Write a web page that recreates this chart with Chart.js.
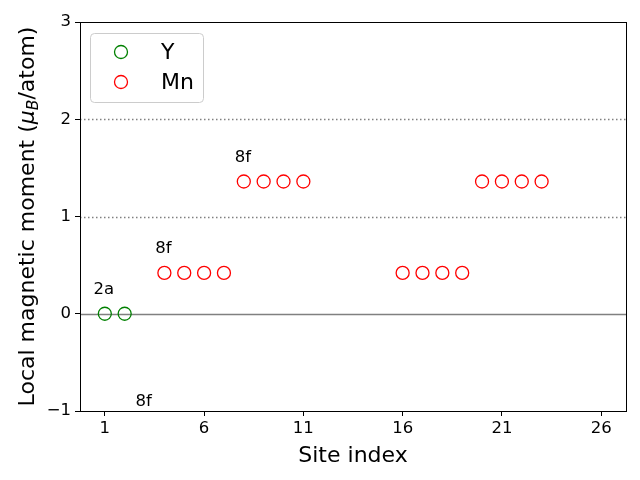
<!DOCTYPE html>
<html><head><meta charset="utf-8">
<script src="https://cdn.jsdelivr.net/npm/chart.js@4"></script>
<style>html,body{margin:0;padding:0;background:#fff}#c{display:block}</style>
</head><body>
<canvas id="c" width="640" height="480"></canvas>
<script>
const ySites = [1, 2];
const yValues = [0, 0];
const mnSites = [4, 5, 6, 7, 8, 9, 10, 11, 16, 17, 18, 19, 20, 21, 22, 23];
const mnValues = [0.42, 0.42, 0.42, 0.42, 1.36, 1.36, 1.36, 1.36, 0.42, 0.42, 0.42, 0.42, 1.36, 1.36, 1.36, 1.36];
const xTicks = [1, 6, 11, 16, 21, 26];
const yTicks = [-1, 0, 1, 2, 3];
const annotLabels = ['2a', '8f', '8f', '8f'];
const annotX = [0.95, 3.95, 7.95, 2.95];
const annotY = [0.2, 0.62, 1.56, -0.95];
const refLines = [0, 1, 2];

const FONT = "'DejaVu Sans', sans-serif";
const toPts = (xs, ys) => xs.map((x, i) => ({x: x, y: ys[i]}));

const overlay = {
  id: 'overlay',
  beforeDatasetsDraw(chart) {
    const ctx = chart.ctx, a = chart.chartArea, ys = chart.scales.y;
    ctx.save();
    refLines.forEach(v => {
      const py = Math.round(ys.getPixelForValue(v)) + 0.5;
      ctx.beginPath();
      ctx.strokeStyle = 'rgba(128,128,128,1)';
      if (v === 0) { ctx.lineWidth = 1.5; ctx.setLineDash([]); }
      else { ctx.lineWidth = 1.5; ctx.setLineDash([1.5, 2.5]); }
      ctx.moveTo(a.left, py); ctx.lineTo(a.right, py); ctx.stroke();
    });
    ctx.restore();
  },
  afterDraw(chart) {
    const ctx = chart.ctx, a = chart.chartArea, xs = chart.scales.x, ys = chart.scales.y;
    ctx.save();
    // frame
    ctx.strokeStyle = '#000'; ctx.lineWidth = 1; ctx.setLineDash([]);
    ctx.strokeRect(Math.round(a.left) + 0.5, Math.round(a.top) + 0.5, Math.round(a.right - a.left), Math.round(a.bottom - a.top));
    // annotations
    ctx.fillStyle = '#000';
    ctx.font = '16.5px ' + FONT;
    ctx.textAlign = 'center'; ctx.textBaseline = 'alphabetic';
    annotLabels.forEach((t, i) => {
      ctx.fillText(t, xs.getPixelForValue(annotX[i]), ys.getPixelForValue(annotY[i]));
    });
    // x label
    ctx.font = '22px ' + FONT;
    ctx.textAlign = 'center';
    ctx.fillText('Site index', (a.left + a.right) / 2, 462);
    // y label
    ctx.translate(34, (a.top + a.bottom) / 2);
    ctx.rotate(-Math.PI / 2);
    const parts = [
      {t: 'Local magnetic moment (', f: '22px ' + FONT, dy: 0},
      {t: 'μ', f: 'italic 22px ' + FONT, dy: 0},
      {t: 'B', f: 'italic 15.5px ' + FONT, dy: 4},
      {t: '/atom)', f: '22px ' + FONT, dy: 0}
    ];
    let total = 0;
    parts.forEach(p => { ctx.font = p.f; p.w = ctx.measureText(p.t).width; total += p.w; });
    let cx = -total / 2;
    ctx.textAlign = 'left';
    parts.forEach(p => { ctx.font = p.f; ctx.fillText(p.t, cx, p.dy); cx += p.w; });
    ctx.restore();
    // legend
    ctx.save();
    const lx = 90.5, ly = 33.5, lw = 113, lh = 69, r = 4;
    ctx.beginPath();
    ctx.moveTo(lx + r, ly); ctx.lineTo(lx + lw - r, ly); ctx.arcTo(lx + lw, ly, lx + lw, ly + r, r);
    ctx.lineTo(lx + lw, ly + lh - r); ctx.arcTo(lx + lw, ly + lh, lx + lw - r, ly + lh, r);
    ctx.lineTo(lx + r, ly + lh); ctx.arcTo(lx, ly + lh, lx, ly + lh - r, r);
    ctx.lineTo(lx, ly + r); ctx.arcTo(lx, ly, lx + r, ly, r); ctx.closePath();
    ctx.fillStyle = 'rgba(255,255,255,0.8)'; ctx.fill();
    ctx.strokeStyle = '#cccccc'; ctx.lineWidth = 1; ctx.stroke();
    chart.data.datasets.forEach((ds, i) => {
      const my = 52 + i * 30;
      ctx.beginPath(); ctx.arc(121, my, 6.5, 0, Math.PI * 2);
      ctx.strokeStyle = ds.borderColor; ctx.lineWidth = 1.3; ctx.stroke();
      ctx.fillStyle = '#000'; ctx.font = '22px ' + FONT;
      ctx.textAlign = 'left'; ctx.textBaseline = 'middle';
      ctx.fillText(ds.label, 161, my + 1);
    });
    ctx.restore();
  }
};

new Chart(document.getElementById('c'), {
  type: 'scatter',
  data: {
    datasets: [
      {label: 'Y', data: toPts(ySites, yValues), borderColor: '#008000', backgroundColor: 'rgba(0,0,0,0)', pointRadius: 6.5, pointHoverRadius: 6.5, borderWidth: 1.3},
      {label: 'Mn', data: toPts(mnSites, mnValues), borderColor: '#ff0000', backgroundColor: 'rgba(0,0,0,0)', pointRadius: 6.5, pointHoverRadius: 6.5, borderWidth: 1.3}
    ]
  },
  options: {
    responsive: false, animation: false,
    layout: {padding: {top: 22, right: 14, left: 0, bottom: 0}},
    plugins: {legend: {display: false}, tooltip: {enabled: false}},
    scales: {
      x: {
        type: 'linear', min: -0.25, max: 27.25,
        afterBuildTicks: s => { s.ticks = xTicks.map(v => ({value: v})); },
        afterFit: s => { s.height = 69; },
        grid: {drawOnChartArea: false, tickLength: 5, color: '#000', tickWidth: 1},
        border: {display: true, color: '#000', width: 1},
        ticks: {color: '#000', font: {family: FONT, size: 16.5}, padding: 3, maxRotation: 0, autoSkip: false, callback: v => String(v)}
      },
      y: {
        type: 'linear', min: -1, max: 3,
        afterBuildTicks: s => { s.ticks = yTicks.map(v => ({value: v})); },
        afterFit: s => { s.width = 80; },
        grid: {drawOnChartArea: false, tickLength: 5, color: '#000', tickWidth: 1},
        border: {display: true, color: '#000', width: 1},
        ticks: {color: '#000', font: {family: FONT, size: 16.5}, padding: 4, autoSkip: false, callback: v => String(v).replace('-', '\u2212')}
      }
    }
  },
  plugins: [overlay]
});
</script>
</body></html>
